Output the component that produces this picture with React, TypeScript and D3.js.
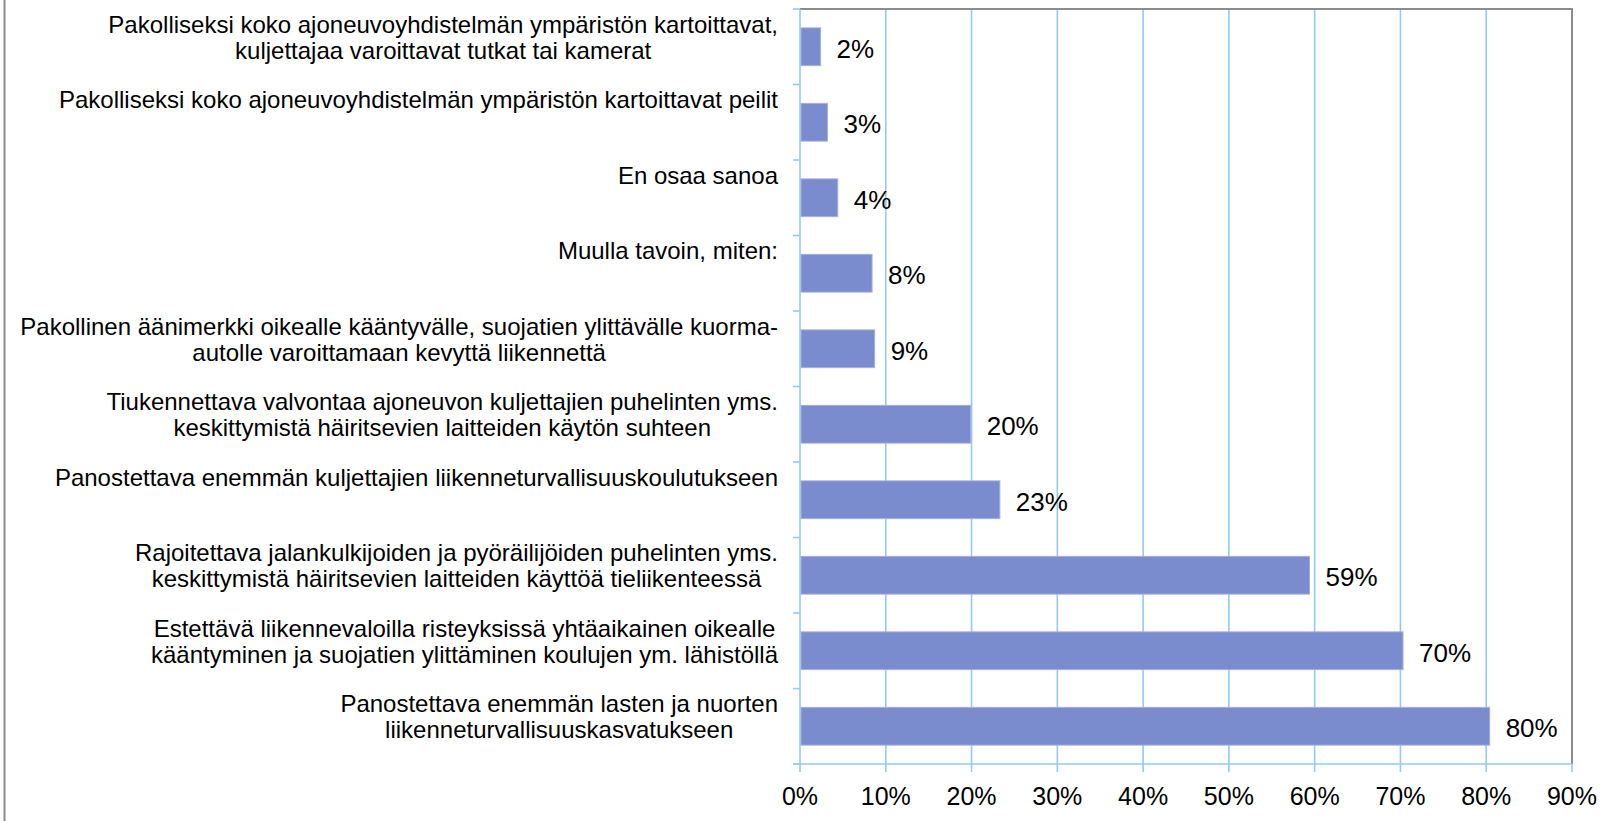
import React, { useEffect, useRef } from 'react';
import * as d3 from 'd3';

// kategoriat ylhäältä alas, rivinvaihto "\n"
const categories = [
  'Pakolliseksi koko ajoneuvoyhdistelmän ympäristön kartoittavat,\nkuljettajaa varoittavat tutkat tai kamerat',
  'Pakolliseksi koko ajoneuvoyhdistelmän ympäristön kartoittavat peilit',
  'En osaa sanoa',
  'Muulla tavoin, miten:',
  'Pakollinen äänimerkki oikealle kääntyvälle, suojatien ylittävälle kuorma-\nautolle varoittamaan kevyttä liikennettä',
  'Tiukennettava valvontaa ajoneuvon kuljettajien puhelinten yms.\nkeskittymistä häiritsevien laitteiden käytön suhteen',
  'Panostettava enemmän kuljettajien liikenneturvallisuuskoulutukseen',
  'Rajoitettava jalankulkijoiden ja pyöräilijöiden puhelinten yms.\nkeskittymistä häiritsevien laitteiden käyttöä tieliikenteessä',
  'Estettävä liikennevaloilla risteyksissä yhtäaikainen oikealle\nkääntyminen ja suojatien ylittäminen koulujen ym. lähistöllä',
  'Panostettava enemmän lasten ja nuorten\nliikenneturvallisuuskasvatukseen',
];

// prosentit
const values = [2.4, 3.2, 4.4, 8.4, 8.7, 19.9, 23.3, 59.4, 70.3, 80.4];

const xTicks = [0, 10, 20, 30, 40, 50, 60, 70, 80, 90];

const font = '"Liberation Sans", Arial, sans-serif';

function BarChart() {
  const ref = useRef<SVGSVGElement>(null);

  useEffect(() => {
    const width = 1608;
    const height = 821;
    const left = 800, right = 1572, top = 9, bottom = 764;

    const svg = d3.select(ref.current);
    svg.selectAll('*').remove();
    svg.attr('width', width).attr('height', height);

    const x = d3.scaleLinear().domain([0, 90]).range([left, right]);
    const y = d3.scaleBand<string>()
      .domain(categories)
      .range([top, bottom])
      .paddingInner(0.5)
      .paddingOuter(0.25);
    const step = y.step();
    const gridColor = '#92cbef';

    // vasen reunaviiva
    svg.append('line')
      .attr('x1', 4.5).attr('x2', 4.5).attr('y1', 0).attr('y2', height)
      .attr('stroke', '#8c8c8c').attr('stroke-width', 2);

    // pystyviivat
    svg.append('g')
      .selectAll('line')
      .data(xTicks.slice(1))
      .enter()
      .append('line')
      .attr('x1', d => x(d)).attr('x2', d => x(d))
      .attr('y1', top).attr('y2', bottom + 8)
      .attr('stroke', gridColor).attr('stroke-width', 1.6);

    // tick-merkit y-akselille
    svg.append('g')
      .selectAll('line')
      .data(d3.range(categories.length + 1))
      .enter()
      .append('line')
      .attr('x1', left - 7).attr('x2', left)
      .attr('y1', i => top + i * step).attr('y2', i => top + i * step)
      .attr('stroke', gridColor).attr('stroke-width', 1.6);

    // kehys ylä ja oikea
    svg.append('path')
      .attr('d', `M${left},${top}H${right}V${bottom}`)
      .attr('fill', 'none').attr('stroke', '#8c8c8c').attr('stroke-width', 2);

    // akselit
    svg.append('line')
      .attr('x1', left - 7).attr('x2', right).attr('y1', bottom).attr('y2', bottom)
      .attr('stroke', gridColor).attr('stroke-width', 1.6);
    svg.append('line')
      .attr('x1', left).attr('x2', left).attr('y1', top).attr('y2', bottom + 8)
      .attr('stroke', gridColor).attr('stroke-width', 1.6);

    // palkit
    svg.append('g')
      .selectAll('rect')
      .data(values)
      .enter()
      .append('rect')
      .attr('x', x(0) + 1)
      .attr('y', (d, i) => y(categories[i]) as number)
      .attr('width', d => x(d) - x(0) - 1)
      .attr('height', y.bandwidth())
      .attr('fill', '#7a8bce')
      .attr('stroke', '#a3afe0')
      .attr('stroke-width', 1);

    // arvot
    svg.append('g')
      .selectAll('text')
      .data(values)
      .enter()
      .append('text')
      .attr('x', d => x(d) + 16)
      .attr('y', (d, i) => (y(categories[i]) as number) + y.bandwidth() / 2 + 11)
      .attr('font-family', font)
      .attr('font-size', 26)
      .attr('fill', '#000')
      .text(d => Math.round(d) + '%');

    // x-akselin tekstit
    svg.append('g')
      .selectAll('text')
      .data(xTicks)
      .enter()
      .append('text')
      .attr('x', d => x(d))
      .attr('y', 805)
      .attr('text-anchor', 'middle')
      .attr('font-family', font)
      .attr('font-size', 25)
      .text(d => d + '%');

    // kategoriat
    const labelRight = 778;
    categories.forEach((c, i) => {
      const lines = c.split('\n');
      const g = svg.append('g');
      const texts = g.selectAll('text')
        .data(lines)
        .enter()
        .append('text')
        .attr('y', (d, j) => top + i * step + 23.5 + j * 26)
        .attr('text-anchor', 'middle')
        .attr('font-family', font)
        .attr('font-size', 24)
        .text(d => d);
      let maxW = 0;
      texts.each(function () {
        maxW = Math.max(maxW, (this as SVGTextElement).getComputedTextLength());
      });
      texts.attr('x', labelRight - maxW / 2);
    });
  }, []);

  return <svg ref={ref} style={{ position: 'absolute', left: 0, top: 0, display: 'block' }} />;
}

export default function App() {
  return (
    <div style={{ width: 1608, height: 821, overflow: 'hidden', background: '#fff' }}>
      <BarChart />
    </div>
  );
}
